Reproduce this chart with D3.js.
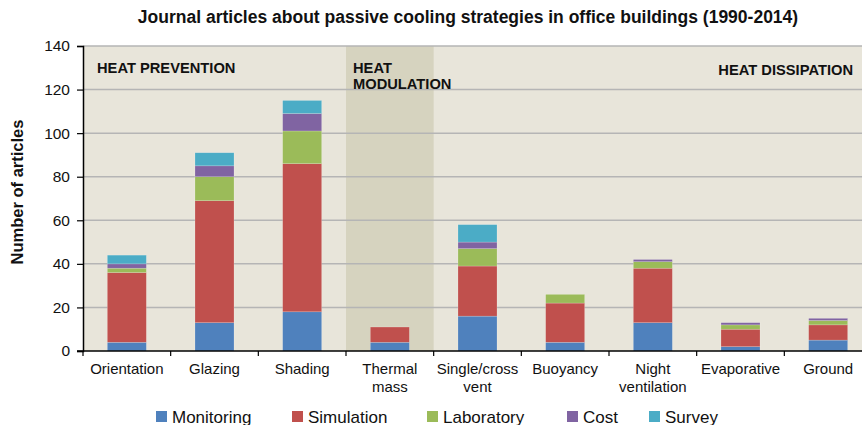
<!DOCTYPE html>
<html>
<head>
<meta charset="utf-8">
<script src="https://cdn.jsdelivr.net/npm/d3@7"></script>
<style>
  body { margin: 0; background: #fff; }
  svg { display: block; font-family: "Liberation Sans", Arial, sans-serif; }
</style>
</head>
<body>
<svg width="862" height="425"></svg>
<script>
const categories = ["Orientation", "Glazing", "Shading", "Thermal mass", "Single/cross vent",
    "Buoyancy", "Night ventilation", "Evaporative", "Ground"];
const seriesNames = ["Monitoring", "Simulation", "Laboratory", "Cost", "Survey"];
const monitoring = [4, 13, 18, 4, 16, 4, 13, 2, 5];
const simulation = [32, 56, 68, 7, 23, 18, 25, 8, 7];
const laboratory = [2, 11, 15, 0, 8, 4, 3, 2, 2];
const cost = [2, 5, 8, 0, 3, 0, 1, 1, 1];
const survey = [4, 6, 6, 0, 8, 0, 0, 0, 0];
const yTicks = [0, 20, 40, 60, 80, 100, 120, 140];
const colors = ["#4f81bd", "#c0504d", "#9bbb59", "#8064a2", "#4bacc6"];

const svg = d3.select("svg");

// build rows for d3.stack
const rows = categories.map(function(c, i) {
    return { cat: c, Monitoring: monitoring[i], Simulation: simulation[i],
        Laboratory: laboratory[i], Cost: cost[i], Survey: survey[i] };
});
const stacked = d3.stack().keys(seriesNames)(rows);

const x = d3.scaleBand().domain(categories).range([83, 872]).padding(0);
const y = d3.scaleLinear().domain([0, 140]).range([351, 46]);
const barW = x.bandwidth() * 0.445;

// plot background
svg.append("rect")
    .attr("x", 83).attr("y", y(140))
    .attr("width", 872 - 83).attr("height", y(0) - y(140))
    .attr("fill", "#e8e5da");

// heat modulation band
svg.append("rect")
    .attr("x", x("Thermal mass")).attr("y", y(140))
    .attr("width", x.bandwidth()).attr("height", y(0) - y(140))
    .attr("fill", "#d6d3bf");

// gridlines
svg.append("g")
    .selectAll("line").data(yTicks.filter(function(d) { return d > 0; })).enter()
    .append("line")
    .attr("x1", 83).attr("x2", 872)
    .attr("y1", function(d) { return y(d); })
    .attr("y2", function(d) { return y(d); })
    .attr("stroke", "#b5b5b5")
    .attr("stroke-width", 1.5);

// stacked bars
svg.append("g")
    .selectAll("g").data(stacked).enter()
    .append("g")
    .attr("fill", function(d, i) { return colors[i]; })
    .selectAll("rect").data(function(d) { return d; }).enter()
    .append("rect")
    .attr("x", function(d) { return x(d.data.cat) + (x.bandwidth() - barW) / 2; })
    .attr("y", function(d) { return y(d[1]); })
    .attr("width", barW)
    .attr("height", function(d) { return y(d[0]) - y(d[1]); })
    .attr("stroke", "rgba(255,255,255,0.3)")
    .attr("stroke-width", 0.6);

// y axis
const yAxis = svg.append("g")
    .attr("transform", "translate(83,0)")
    .call(d3.axisLeft(y).tickValues(yTicks).tickSize(6).tickPadding(7));
yAxis.select(".domain").attr("stroke", "#000").attr("stroke-width", 1.5);
yAxis.selectAll(".tick line").attr("stroke", "#000").attr("stroke-width", 1.2);
yAxis.selectAll(".tick text")
    .attr("font-size", "15.5px")
    .attr("font-family", "Liberation Sans, Arial, sans-serif")
    .attr("fill", "#111");

// x axis line and ticks at band edges
svg.append("line")
    .attr("x1", 77).attr("x2", 872)
    .attr("y1", y(0)).attr("y2", y(0))
    .attr("stroke", "#000").attr("stroke-width", 1.5);
const edges = categories.map(function(c) { return x(c); });
svg.append("g")
    .selectAll("line").data(edges).enter()
    .append("line")
    .attr("x1", function(d) { return d; }).attr("x2", function(d) { return d; })
    .attr("y1", y(0)).attr("y2", y(0) + 5)
    .attr("stroke", "#000").attr("stroke-width", 1.2);

// category labels
const lab = svg.append("g").selectAll("text").data(categories).enter()
    .append("text")
    .attr("x", function(d) { return x(d) + x.bandwidth() / 2; })
    .attr("y", 374)
    .attr("text-anchor", "middle")
    .attr("font-size", "15px")
    .attr("fill", "#111");
lab.each(function(d) {
    const parts = { "Thermal mass": ["Thermal", "mass"], "Single/cross vent": ["Single/cross", "vent"],
        "Night ventilation": ["Night", "ventilation"] }[d] || [d];
    const t = d3.select(this);
    parts.forEach(function(p, i) {
        t.append("tspan")
            .attr("x", x(d) + x.bandwidth() / 2)
            .attr("dy", i === 0 ? 0 : 18)
            .text(p);
    });
});

// title
svg.append("text")
    .attr("x", 468).attr("y", 23)
    .attr("text-anchor", "middle")
    .attr("font-size", "17.5px").attr("font-weight", "bold")
    .attr("fill", "#111")
    .text("Journal articles about passive cooling strategies in office buildings (1990-2014)");

// y axis title
svg.append("text")
    .attr("transform", "translate(23,192) rotate(-90)")
    .attr("text-anchor", "middle")
    .attr("font-size", "16.5px").attr("font-weight", "bold")
    .attr("fill", "#111")
    .text("Number of articles");

// section labels
svg.append("text")
    .attr("x", 97).attr("y", 73)
    .attr("font-size", "14.7px").attr("font-weight", "bold").attr("fill", "#111")
    .text("HEAT PREVENTION");
svg.append("text")
    .attr("x", 353).attr("y", 73)
    .attr("font-size", "14.7px").attr("font-weight", "bold").attr("fill", "#111")
    .text("HEAT");
svg.append("text")
    .attr("x", 353).attr("y", 89)
    .attr("font-size", "14.7px").attr("font-weight", "bold").attr("fill", "#111")
    .text("MODULATION");
svg.append("text")
    .attr("x", 853).attr("y", 75)
    .attr("text-anchor", "end")
    .attr("font-size", "14.7px").attr("font-weight", "bold").attr("fill", "#111")
    .text("HEAT DISSIPATION");

// legend
const legendX = [156, 292, 427, 567, 649];
const legend = svg.append("g").selectAll("g").data(seriesNames).enter()
    .append("g")
    .attr("transform", function(d, i) { return "translate(" + legendX[i] + ",411)"; });
legend.append("rect")
    .attr("width", 11).attr("height", 11)
    .attr("fill", function(d, i) { return colors[i]; });
legend.append("text")
    .attr("x", 16).attr("y", 12)
    .attr("font-size", "17px").attr("fill", "#111")
    .text(function(d) { return d; });
</script>
</body>
</html>
